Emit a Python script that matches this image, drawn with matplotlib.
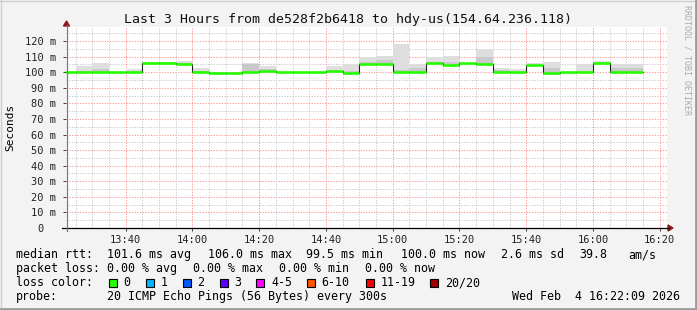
import matplotlib
matplotlib.use('Agg')
import matplotlib.pyplot as plt
from matplotlib.patches import Rectangle, Polygon
from matplotlib.lines import Line2D

# 5 minute bins (start time), median rtt and smoke extents in ms
bin_start = ['13:20', '13:25', '13:30', '13:35', '13:40', '13:45', '13:50', '13:55',
             '14:00', '14:05', '14:10', '14:15', '14:20', '14:25', '14:30', '14:35',
             '14:40', '14:45', '14:50', '14:55', '15:00', '15:05', '15:10', '15:15',
             '15:20', '15:25', '15:30', '15:35', '15:40', '15:45', '15:50', '15:55',
             '16:00', '16:05', '16:10']
median = [99.8, 99.8, 99.8, 99.8, 100.4, 105.8, 105.8, 105.2,
          100.0, 99.6, 99.6, 100.0, 100.6, 100.4, 100.4, 100.4,
          100.5, 99.6, 105.3, 105.4, 100.0, 100.0, 105.8, 104.8,
          105.6, 105.4, 100.0, 100.0, 104.8, 99.4, 100.2, 100.2,
          105.6, 100.2, 100.2]
smoke_hi = [99.8, 104.0, 105.8, 100.0, 102.0, 106.7, 106.5, 107.0,
            102.7, 99.6, 99.6, 105.8, 104.0, 100.4, 100.4, 100.4,
            104.0, 105.2, 110.0, 110.7, 117.8, 105.4, 109.7, 110.1,
            105.6, 115.0, 102.6, 102.0, 106.0, 106.5, 100.2, 105.0,
            106.9, 105.4, 105.0]
smoke_mid = [99.8, 100.6, 102.3, 99.8, 100.8, 106.0, 105.8, 106.2,
             101.0, 99.6, 99.6, 105.4, 102.3, 100.4, 100.4, 100.4,
             101.0, 101.0, 106.5, 108.0, 101.2, 102.5, 106.5, 106.5,
             105.6, 110.0, 101.2, 100.0, 104.8, 102.7, 100.2, 100.2,
             105.6, 103.0, 103.0]

time_ticks = ['13:40', '14:00', '14:20', '14:40', '15:00', '15:20', '15:40', '16:00', '16:20']
y_ticks = [0, 10, 20, 30, 40, 50, 60, 70, 80, 90, 100, 110, 120]

loss_labels = ['0', '1', '2', '3', '4-5', '6-10', '11-19', '20/20']
loss_colors = ['#26ff00', '#00b8ff', '#0059ff', '#5e00ff', '#ff00ff', '#ff5500', '#ff0000', '#a10000']


def mins(t):
    h, m = t.split(':')
    return int(h) * 60 + int(m) - 13 * 60


W, H = 697, 310
mono = 'DejaVu Sans Mono'
plt.rcParams['font.family'] = mono

fig = plt.figure(figsize=(W / 100, H / 100), dpi=100, facecolor='#f3f3f3')


def fx(x):
    return x / W


def fy(y):
    return 1 - y / H


ax = fig.add_axes([fx(66), fy(228), (667 - 66) / W, (228 - 27) / H])
ax.set_facecolor('white')
x0, x1 = 22 + 9 / 60, 202 + 9 / 60
ax.set_xlim(x0, x1)
ax.set_ylim(0, 129)

# grid
for v in range(0, 130, 5):
    c = '#ff9a9a' if v % 10 == 0 else '#cdcdcd'
    ax.axhline(v, color=c, lw=0.7, ls=(0, (1.4, 1.4)), zorder=0)
for m in range(25, 205, 5):
    c = '#ff9a9a' if m % 20 == 0 else '#cdcdcd'
    ax.axvline(m, color=c, lw=0.7, ls=(0, (1.4, 1.4)), zorder=0)

xs = [mins(t) for t in bin_start]

# smoke
ax.bar(xs, [h - m for h, m in zip(smoke_hi, median)], width=5, bottom=median,
       align='edge', color='#dedede', lw=0, zorder=1)
ax.bar(xs, [h - m for h, m in zip(smoke_mid, median)], width=5, bottom=median,
       align='edge', color='#c9c9c9', lw=0, zorder=1)

# median line: dark steps + green loss colour
ax.step(xs + [xs[-1] + 5], median + [median[-1]], where='post', color='#202020', lw=0.8, zorder=2)
ax.hlines(median, xs, [x + 5 for x in xs], color=loss_colors[0], lw=1.9, zorder=3)

ax.set_xticks([mins(t) for t in time_ticks])
ax.set_xticklabels(time_ticks, fontsize=7.5)
ax.set_yticks(y_ticks)
ax.set_yticklabels([('%d m' % v) if v else '0  ' for v in y_ticks], fontsize=7.5)
ax.tick_params(length=2, width=0.6, pad=3, colors='#222222')
ax.tick_params(axis='y', pad=5)
for s in ax.spines.values():
    s.set_visible(False)

# axis lines and arrows
fig.add_artist(Line2D([fx(62), fx(669)], [fy(228), fy(228)], color='black', lw=0.9))
fig.add_artist(Line2D([fx(66.5), fx(66.5)], [fy(231), fy(25)], color='#777777', lw=0.9))
fig.add_artist(Polygon([[fx(668), fy(225)], [fx(668), fy(231)], [fx(673), fy(228)]],
                       closed=True, color='#8b1a1a'))
fig.add_artist(Polygon([[fx(63.5), fy(26)], [fx(69.5), fy(26)], [fx(66.5), fy(21)]],
                       closed=True, color='#8b1a1a'))

fig.text(fx(348), fy(19), 'Last 3 Hours from de528f2b6418 to hdy-us(154.64.236.118)',
         ha='center', va='center', fontsize=9.5, color='#111111')
fig.text(fx(10), fy(127), 'Seconds', rotation=90, ha='center', va='center', fontsize=8)
fig.text(fx(687), fy(60), 'RRDTOOL / TOBI OETIKER', rotation=-90, ha='center', va='center',
         fontsize=6, color='#aaaaaa')

fs = 8.4
row1 = [(16, 'median rtt:'), (107, '101.6 ms avg'), (208, '106.0 ms max'), (306, '99.5 ms min'),
        (401, '100.0 ms now'), (501, '2.6 ms sd'), (579, '39.8'), (628, 'am/s')]
for x, s in row1:
    fig.text(fx(x), fy(254.5), s, ha='left', va='center', fontsize=fs)
row2 = [(16, 'packet loss:'), (107, '0.00 % avg'), (193, '0.00 % max'), (279, '0.00 % min'),
        (365, '0.00 % now')]
for x, s in row2:
    fig.text(fx(x), fy(268.5), s, ha='left', va='center', fontsize=fs)

fig.text(fx(16), fy(282.5), 'loss color:', ha='left', va='center', fontsize=fs)
box_x = [108.5, 145.5, 182.5, 219.5, 256, 306.5, 365.5, 430]
for bx, lab, col in zip(box_x, loss_labels, loss_colors):
    fig.add_artist(Rectangle((fx(bx), fy(286.5)), 8 / W, 8 / H, facecolor=col,
                             edgecolor='black', lw=0.8))
    fig.text(fx(bx + 15), fy(282.5), lab, ha='left', va='center', fontsize=fs)

fig.text(fx(16), fy(296.5), 'probe:', ha='left', va='center', fontsize=fs)
fig.text(fx(107), fy(296.5), '20 ICMP Echo Pings (56 Bytes) every 300s', ha='left', va='center', fontsize=fs)
fig.text(fx(680), fy(296.5), 'Wed Feb  4 16:22:09 2026', ha='right', va='center', fontsize=fs)

# outer frame
fig.add_artist(Line2D([0, 1], [fy(0.5), fy(0.5)], color='#cfcfcf', lw=1))
fig.add_artist(Line2D([fx(0.5), fx(0.5)], [0, 1], color='#cfcfcf', lw=1))
fig.add_artist(Line2D([0, 1], [fy(308.5), fy(308.5)], color='#9c9c9c', lw=2))
fig.add_artist(Line2D([fx(695.5), fx(695.5)], [0, 1], color='#9c9c9c', lw=2))

fig.savefig('out.png', dpi=100, facecolor=fig.get_facecolor())
